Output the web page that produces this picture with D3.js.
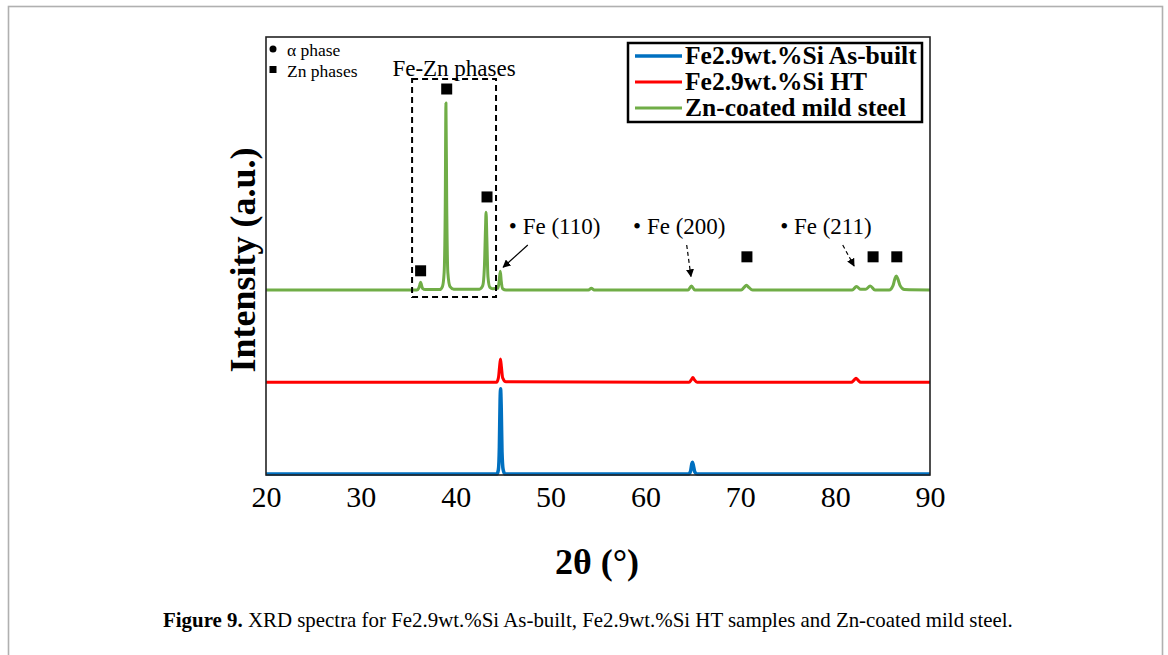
<!DOCTYPE html>
<html><head><meta charset="utf-8">
<script src="https://cdn.jsdelivr.net/npm/d3@7"></script>
<style>html,body{margin:0;padding:0;background:#fff;} svg{display:block;}</style>
</head><body>
<svg id="c" width="1168" height="655"></svg>
<script>
// ---------- DATA ----------
const seriesNames = ["Fe2.9wt.%Si As-built", "Fe2.9wt.%Si HT", "Zn-coated mild steel"];
// [2θ (°), relative intensity (a.u.)]
const asBuilt = [[20,0],[44.35,0],[44.5,1],[44.6,6],[44.68,17],[44.73,19.5],[44.8,15],[44.88,5],[45.0,1],[45.2,0],
  [64.55,0],[64.75,0.6],[64.88,2.2],[64.95,2.7],[65.05,2],[65.2,0.5],[65.45,0],[90,0]];
const heatTreated = [[20,0],[44.3,0],[44.5,1],[44.62,3.5],[44.72,5.3],[44.82,3.5],[44.95,1],[45.3,0.1],
  [64.6,0],[64.85,0.6],[65.0,1.1],[65.15,0.6],[65.45,0],
  [81.7,0],[82.0,0.5],[82.2,0.9],[82.4,0.5],[82.7,0],[90,0]];
const znSteel = [[20,0],[35.9,0],[36.1,0.4],[36.22,1.2],[36.3,1.8],[36.38,1.2],[36.5,0.4],[36.8,0.1],
  [38.3,0.1],[38.6,0.8],[38.78,4],[38.9,20],[38.97,42.8],[39.05,20],[39.17,4],[39.4,0.8],[39.8,0.2],
  [42.5,0.2],[42.85,1],[43.02,5],[43.14,14],[43.2,17.8],[43.28,12],[43.4,3],[43.6,0.6],[43.9,0.3],
  [44.45,0.4],[44.58,2],[44.7,4.3],[44.8,2],[44.95,0.3],[45.3,0],
  [54.0,0],[54.3,0.4],[54.6,0],
  [64.5,0],[64.85,0.9],[65.2,0],
  [70.1,0],[70.4,0.6],[70.65,1.1],[70.9,0.6],[71.3,0],
  [81.8,0],[82.25,0.8],[82.7,0.15],[83.2,0.15],[83.7,0.9],[84.2,0],
  [85.7,0],[86.1,1],[86.3,2.6],[86.45,3.2],[86.6,2.6],[86.85,1],[87.3,0.1],[90,0]];
const seriesOffsets = [0, 21, 42.1];   // vertical stacking of the patterns (a.u.)
const xTicks = [20, 30, 40, 50, 60, 70, 80, 90];
const znMarkers = [[36.3,46.5],[39.05,88.1],[43.3,63.4],[70.7,49.7],[84.0,49.7],[86.5,49.7]];
const feLabels = ["Fe (110)", "Fe (200)", "Fe (211)"];
const feLabelAt = [[45.6,56.5],[58.7,56.5],[74.2,56.5]];
const feArrows = [[[47.6,52.4],[45.0,47.3]],[[64.35,52.4],[64.8,45.2]],[[80.8,52.4],[82.0,47.6]]];
const feArrowDashed = [false, true, true];
const phaseKey = ["α phase", "Zn phases"];
const feZnBox = [[35.4,90.4],[44.25,40.5]];

// ---------- LAYOUT ----------
const P = {l:266, r:930, t:37, b:475};
const colors = ["#0070C0", "#FF0000", "#70AD47"];
const widths = [3.5, 3, 3];
const serif = "'Liberation Serif','Times New Roman',serif";

const svg = d3.select("#c");
svg.append("rect").attr("x",8.5).attr("y",6.5).attr("width",1154).attr("height",700)
  .attr("fill","none").attr("stroke","#b0b0b0").attr("stroke-width",1.6);

const x = d3.scaleLinear().domain([20,90]).range([P.l,P.r]);
const y = d3.scaleLinear().domain([0,100]).range([P.b-1,P.t]);

svg.append("defs").append("marker").attr("id","ah").attr("viewBox","0 0 10 10")
  .attr("refX",9).attr("refY",5).attr("markerWidth",8).attr("markerHeight",8)
  .attr("markerUnits","userSpaceOnUse").attr("orient","auto")
  .append("path").attr("d","M0,0L10,5L0,10z").attr("fill","#000");

// lines
const line = d3.line().x(d=>x(d[0])).curve(d3.curveMonotoneX);
[asBuilt, heatTreated, znSteel].forEach((s,i)=>{
  svg.append("path").datum(s)
    .attr("d", line.y(d=>y(d[1]+seriesOffsets[i])))
    .attr("fill","none").attr("stroke",colors[i]).attr("stroke-width",widths[i])
    .attr("stroke-linejoin","round");
});

// frame
svg.append("rect").attr("x",P.l).attr("y",P.t).attr("width",P.r-P.l).attr("height",P.b-P.t)
  .attr("fill","none").attr("stroke","#222").attr("stroke-width",1.6);

// x axis
const ax = svg.append("g").attr("transform",`translate(0,${P.b})`)
  .call(d3.axisBottom(x).tickValues(xTicks).tickSize(0).tickPadding(11).tickFormat(d3.format("d")));
ax.select(".domain").remove();
ax.selectAll("text").attr("font-family",serif).attr("font-size",30).attr("fill","#000");

// axis titles
svg.append("text").attr("x",597).attr("y",574).attr("text-anchor","middle")
  .attr("font-family",serif).attr("font-weight","bold").attr("font-size",36).text("2θ (°)");
svg.append("text").attr("transform","translate(255,260) rotate(-90)").attr("text-anchor","middle")
  .attr("font-family",serif).attr("font-weight","bold").attr("font-size",36).text("Intensity (a.u.)");

// phase key
svg.append("circle").attr("cx",273).attr("cy",49).attr("r",3.5).attr("fill","#000");
svg.append("rect").attr("x",269.5).attr("y",66).attr("width",7).attr("height",7).attr("fill","#000");
svg.append("text").attr("x",287).attr("y",56).attr("font-family",serif).attr("font-size",17.5).text(phaseKey[0]);
svg.append("text").attr("x",287).attr("y",77).attr("font-family",serif).attr("font-size",17.5).text(phaseKey[1]);

// Fe-Zn box
svg.append("rect").attr("x",x(feZnBox[0][0])).attr("y",y(feZnBox[0][1]))
  .attr("width",x(feZnBox[1][0])-x(feZnBox[0][0])).attr("height",y(feZnBox[1][1])-y(feZnBox[0][1]))
  .attr("fill","none").attr("stroke","#000").attr("stroke-width",2).attr("stroke-dasharray","6,4");
svg.append("text").attr("x",(x(feZnBox[0][0])+x(feZnBox[1][0]))/2).attr("y",76).attr("text-anchor","middle")
  .attr("font-family",serif).attr("font-size",23).text("Fe-Zn phases");

// Zn markers
svg.selectAll(".zn").data(znMarkers).enter().append("rect")
  .attr("x",d=>x(d[0])-5.5).attr("y",d=>y(d[1])-5.5).attr("width",11).attr("height",11).attr("fill","#000");

// Fe labels & arrows
feLabels.forEach((t,i)=>{
  svg.append("text").attr("x",x(feLabelAt[i][0])).attr("y",y(feLabelAt[i][1])+7)
    .attr("font-family",serif).attr("font-size",23).text("• "+t);
  const a = feArrows[i];
  svg.append("line").attr("x1",x(a[0][0])).attr("y1",y(a[0][1])).attr("x2",x(a[1][0])).attr("y2",y(a[1][1]))
    .attr("stroke","#000").attr("stroke-width",1.2)
    .attr("stroke-dasharray",feArrowDashed[i]?"4,3":null).attr("marker-end","url(#ah)");
});

// legend
const lg = svg.append("g");
lg.append("rect").attr("x",628).attr("y",43).attr("width",294).attr("height",79)
  .attr("fill","#fff").attr("stroke","#000").attr("stroke-width",2.5);
seriesNames.forEach((n,i)=>{
  const yy = 56 + i*26;
  lg.append("line").attr("x1",635).attr("x2",682).attr("y1",yy).attr("y2",yy)
    .attr("stroke",colors[i]).attr("stroke-width",widths[i]);
  lg.append("text").attr("x",685).attr("y",yy+8).attr("font-family",serif).attr("font-weight","bold")
    .attr("font-size",25.5).text(n);
});

// caption
const cap = svg.append("text").attr("x",163).attr("y",627).attr("font-family",serif).attr("font-size",20.9);
cap.append("tspan").attr("font-weight","bold").text("Figure 9.");
cap.append("tspan").text(" XRD spectra for Fe2.9wt.%Si As-built, Fe2.9wt.%Si HT samples and Zn-coated mild steel.");
</script>
</body></html>
